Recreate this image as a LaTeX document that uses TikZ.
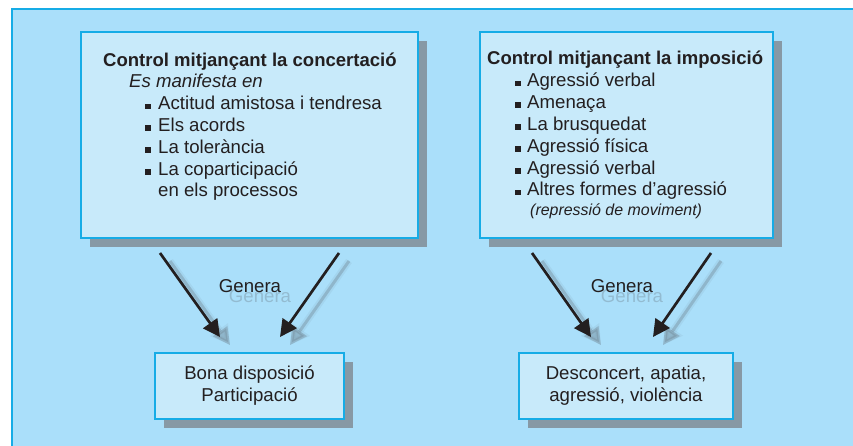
\documentclass[tikz,border=0pt]{standalone}
\usepackage{fontspec}
\setmainfont{Liberation Sans}
\usetikzlibrary{arrows.meta,shadows}
\definecolor{bgc}{RGB}{170,223,250}
\definecolor{boxc}{RGB}{200,234,250}
\definecolor{edgec}{RGB}{22,172,230}
\definecolor{shadc}{RGB}{135,153,165}
\definecolor{txtc}{RGB}{35,31,32}
\definecolor{ghostc}{RGB}{120,145,160}
\begin{document}
\begin{tikzpicture}[x=1bp,y=-1bp,
  panel/.style={draw=edgec, line width=1.5bp, fill=boxc, inner sep=0,
    general shadow={fill=shadc, shadow xshift=9bp, shadow yshift=-9bp}},
  txt/.style={anchor=base west, inner sep=0, text=txtc, font=\fontsize{18.7}{22}\selectfont},
  ttl/.style={txt, font=\fontsize{18.6}{22}\selectfont\bfseries},
  small/.style={txt, font=\fontsize{16}{20}\selectfont\itshape},
  bul/.style={anchor=south, inner sep=0, minimum size=5.8bp, fill=txtc},
  arr/.style={line width=2.7bp, draw=txtc, -{Triangle[length=17bp,width=17bp]}},
  ghostarr/.style={line width=3bp, draw=ghostc, opacity=0.45, -{Triangle[length=17bp,width=17bp]}},
  ghostarrb/.style={line width=7bp, draw=ghostc, opacity=0.12, -{Triangle[length=19bp,width=21bp]}},
  ghosttxt/.style={anchor=base, inner sep=0, text=ghostc, opacity=0.45, font=\fontsize{18.7}{22}\selectfont},
  gentxt/.style={anchor=base, inner sep=0, text=txtc, font=\fontsize{18.7}{22}\selectfont},
  outbox/.style={panel, align=center, font=\fontsize{18.7}{22}\selectfont, text=txtc}
]
\useasboundingbox (0,0) rectangle (853,446);
\clip (0,0) rectangle (853,446);
\fill[white] (0,0) rectangle (853,446);
\draw[draw=edgec, line width=2bp, fill=bgc] (12,9) rectangle (870,470);

% top boxes
\node[panel, minimum width=337bp, minimum height=206bp] (lt) at (249.5,135) {};
\node[panel, minimum width=293bp, minimum height=206bp] (rt) at (626.5,135) {};

% bottom boxes
\node[outbox, minimum width=189bp, minimum height=66bp] (lbx) at (249.5,386) {Bona disposició\\Participació};
\node[outbox, minimum width=214bp, minimum height=66bp] (rbx) at (626,386) {Desconcert, apatia,\\agressió, violència};

% left box text
\node[ttl] (lt0) at (103,67) {Control mitjançant la concertació};
\node[txt, font=\fontsize{18.7}{22}\selectfont\itshape] (lt1) at (129,88) {Es manifesta en};
\node[bul] (lb2) at (148,109.6) {};
\node[txt] (lt2) at (158,110) {Actitud amistosa i tendresa};
\node[bul] (lb3) at (148,131.4) {};
\node[txt] (lt3) at (158,131.8) {Els acords};
\node[bul] (lb4) at (148,153.2) {};
\node[txt] (lt4) at (158,153.6) {La tolerància};
\node[bul] (lb5) at (148,175) {};
\node[txt] (lt5) at (158,175.4) {La coparticipació};
\node[txt] (lt6) at (158,197) {en els processos};

% right box text
\node[ttl] (rt0) at (487,65) {Control mitjançant la imposició};
\node[bul] (rb1) at (518,86.6) {};
\node[txt] (rt1) at (527,87) {Agressió verbal};
\node[bul] (rb2) at (518,108.4) {};
\node[txt] (rt2) at (527,108.8) {Amenaça};
\node[bul] (rb3) at (518,130.2) {};
\node[txt] (rt3) at (527,130.6) {La brusquedat};
\node[bul] (rb4) at (518,152) {};
\node[txt] (rt4) at (527,152.4) {Agressió física};
\node[bul] (rb5) at (518,173.8) {};
\node[txt] (rt5) at (527,174.2) {Agressió verbal};
\node[bul] (rb6) at (518,195.6) {};
\node[txt] (rt6) at (527,196) {Altres formes d’agressió};
\node[small] (rt7) at (530,216) {(repressió de moviment)};

% arrow end points
\coordinate (a1s) at (160,253); \coordinate (a1e) at (220,337);
\coordinate (a2s) at (339,253); \coordinate (a2e) at (280,337);
\coordinate (a3s) at (532,253); \coordinate (a3e) at (591,337);
\coordinate (a4s) at (711,253); \coordinate (a4e) at (653,337);

% ghost arrows and texts
\foreach \s/\e in {a1s/a1e,a2s/a2e,a3s/a3e,a4s/a4e}{
  \draw[ghostarrb] ([shift={(10,8)}]\s) -- ([shift={(10,8)}]\e);
  \draw[ghostarr] ([shift={(10,8)}]\s) -- ([shift={(10,8)}]\e);
}
\node[ghosttxt] (g1s) at (260,303) {Genera};
\node[ghosttxt] (g2s) at (632,303) {Genera};

% arrows
\draw[arr] (a1s) -- (a1e);
\draw[arr] (a2s) -- (a2e);
\draw[arr] (a3s) -- (a3e);
\draw[arr] (a4s) -- (a4e);

\node[gentxt] (g1) at (250,293) {Genera};
\node[gentxt] (g2) at (622,293) {Genera};
\end{tikzpicture}
\end{document}
